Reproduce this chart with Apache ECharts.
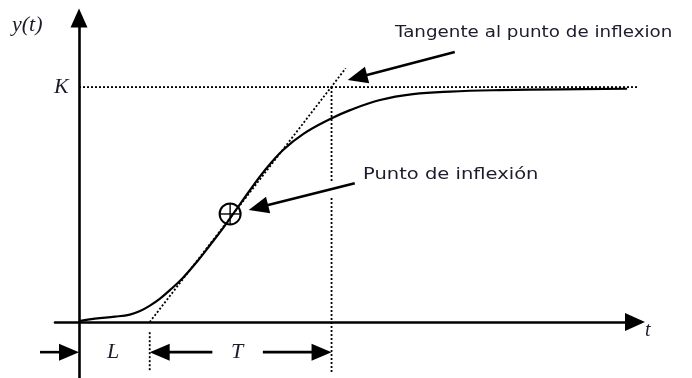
<!DOCTYPE html>
<html>
<head>
<meta charset="utf-8">
<script src="https://cdn.jsdelivr.net/npm/echarts@6/dist/echarts.min.js"></script>
<style>
  html, body { margin: 0; padding: 0; background: #fff; }
  #chart { width: 692px; height: 378px; }
</style>
</head>
<body>
<div id="chart"></div>
<script>
// First-order-plus-dead-time step response y(t): gain K, dead time L, time constant T
const K = 1;
const L = 3.5;
const T = 9;

// S-shaped step response
const responseT = [0, 0.79, 1.78, 2.52, 3.02, 3.51, 4.01, 4.5, 5.15, 5.84, 6.49, 7.13, 7.77, 8.47, 9.21, 10.1, 11.09, 12.43, 13.42, 14.9, 16.53, 18.37, 20.84, 23.81, 27.13];
const responseY = [0.004, 0.015, 0.023, 0.032, 0.047, 0.07, 0.1, 0.136, 0.189, 0.257, 0.328, 0.4, 0.477, 0.562, 0.647, 0.732, 0.8, 0.864, 0.902, 0.945, 0.97, 0.981, 0.987, 0.99, 0.993];

// Inflection point and tangent through it
const inflectionT = 7.48;
const inflectionY = 0.46;
const tangentT = [L, 13.2];
const tangentY = [0, 1.08];

// Final value reference line
const kLineT = [0, 29.5];

// Guide lines below the time axis and dimension arrows
const guideBottom = -0.213;
const guideTop = -0.043;
const dimY = -0.128;
const gapTop = 0.592;
const gapBottom = 0.528;

// Annotation arrows: [fromT, fromY, toT, toY]
const dimArrows = [
  [-1.93, dimY, 0, dimY],
  [6.6, dimY, L, dimY],
  [9.1, dimY, L + T, dimY]
];
const noteArrows = [
  [18.6, 1.149, 13.3, 1.03],
  [13.65, 0.591, 8.4, 0.477]
];

const ink = '#000';
const textInk = '#1c1c2c';
const dotted = [2, 2];

function arrowItem(params, api) {
  const p0 = api.coord([api.value(0), api.value(1)]);
  const p1 = api.coord([api.value(2), api.value(3)]);
  const dx = p1[0] - p0[0], dy = p1[1] - p0[1];
  const len = Math.hypot(dx, dy);
  const ux = dx / len, uy = dy / len;
  const head = 20, half = 8.5;
  const bx = p1[0] - ux * head, by = p1[1] - uy * head;
  return {
    type: 'group',
    children: [
      { type: 'line', shape: { x1: p0[0], y1: p0[1], x2: bx + ux * 2, y2: by + uy * 2 },
        style: { stroke: ink, lineWidth: 2.6 } },
      { type: 'polygon',
        shape: { points: [p1, [bx - uy * half, by + ux * half], [bx + uy * half, by - ux * half]] },
        style: { fill: ink } }
    ]
  };
}

function markerItem(params, api) {
  const c = api.coord([api.value(0), api.value(1)]);
  const r = 10.5;
  return {
    type: 'group',
    children: [
      { type: 'circle', shape: { cx: c[0], cy: c[1], r: r }, style: { fill: 'none', stroke: ink, lineWidth: 2 } },
      { type: 'line', shape: { x1: c[0] - r, y1: c[1], x2: c[0] + r, y2: c[1] }, style: { stroke: ink, lineWidth: 1.4 } },
      { type: 'line', shape: { x1: c[0], y1: c[1] - r, x2: c[0], y2: c[1] + r }, style: { stroke: ink, lineWidth: 1.4 } }
    ]
  };
}

const dottedStyle = { color: ink, width: 1.8, type: dotted };

const chart = echarts.init(document.getElementById('chart'), null, { renderer: 'canvas' });
chart.setOption({
  animation: false,
  backgroundColor: '#fff',
  grid: { left: 55, right: 57, top: 18, bottom: 0 },
  xAxis: {
    type: 'value', min: -1.188, max: 27.52,
    axisLine: { onZero: true, symbol: ['none', 'triangle'], symbolSize: [18, 20],
      lineStyle: { color: ink, width: 2.6 } },
    axisTick: { show: false }, axisLabel: { show: false }, splitLine: { show: false }
  },
  yAxis: {
    type: 'value', min: -0.238, max: 1.294,
    axisLine: { onZero: true, symbol: ['none', 'triangle'], symbolSize: [17, 19],
      lineStyle: { color: ink, width: 2.6 } },
    axisTick: { show: false }, axisLabel: { show: false }, splitLine: { show: false }
  },
  series: [
    { name: 'K', type: 'line', clip: false, showSymbol: false, silent: true,
      data: kLineT.map(t => [t, K]), lineStyle: dottedStyle },
    { name: 'tangente', type: 'line', clip: false, showSymbol: false, silent: true,
      data: tangentT.map((t, i) => [t, tangentY[i]]), lineStyle: dottedStyle },
    { name: 'L', type: 'line', clip: false, showSymbol: false, silent: true,
      data: [[L, guideTop], [L, guideBottom]], lineStyle: dottedStyle },
    { name: 'L+T', type: 'line', clip: false, showSymbol: false, silent: true, connectNulls: false,
      data: [[L + T, K], [L + T, gapTop], [L + T, '-'], [L + T, gapBottom], [L + T, guideBottom]],
      lineStyle: dottedStyle },
    { name: 'y(t)', type: 'line', smooth: 0.4, showSymbol: false, silent: true,
      data: responseT.map((t, i) => [t, responseY[i]]),
      lineStyle: { color: ink, width: 2.2 } },
    { name: 'inflexion', type: 'custom', renderItem: markerItem, silent: true,
      data: [[inflectionT, inflectionY]] },
    { name: 'cotas', type: 'custom', renderItem: arrowItem, silent: true,
      encode: { x: [0, 2], y: [1, 3] }, data: dimArrows },
    { name: 'notas', type: 'custom', renderItem: arrowItem, silent: true,
      encode: { x: [0, 2], y: [1, 3] }, data: noteArrows }
  ],
  graphic: [
    { type: 'text', x: 12, y: 25, style: { text: 'y(t)', font: 'italic 22px "Liberation Serif"', fill: textInk, textAlign: 'left', textVerticalAlign: 'middle' } },
    { type: 'text', x: 54, y: 87, style: { text: 'K', font: 'italic 22px "Liberation Serif"', fill: textInk, textAlign: 'left', textVerticalAlign: 'middle' } },
    { type: 'text', x: 645, y: 331, style: { text: 't', font: 'italic 20px "Liberation Serif"', fill: textInk, textAlign: 'left', textVerticalAlign: 'middle' } },
    { type: 'text', x: 113, y: 352, style: { text: 'L', font: 'italic 22px "Liberation Serif"', fill: textInk, textAlign: 'center', textVerticalAlign: 'middle' } },
    { type: 'text', x: 237, y: 352, style: { text: 'T', font: 'italic 22px "Liberation Serif"', fill: textInk, textAlign: 'center', textVerticalAlign: 'middle' } },
    { type: 'text', x: 395, y: 33, scaleX: 1.22, style: { text: 'Tangente al punto de inflexion', font: '15px "DejaVu Sans"', fill: textInk, textAlign: 'left', textVerticalAlign: 'middle' } },
    { type: 'text', x: 363, y: 175, scaleX: 1.3, style: { text: 'Punto de inflexión', font: '15px "DejaVu Sans"', fill: textInk, textAlign: 'left', textVerticalAlign: 'middle' } }
  ]
});
</script>
</body>
</html>
